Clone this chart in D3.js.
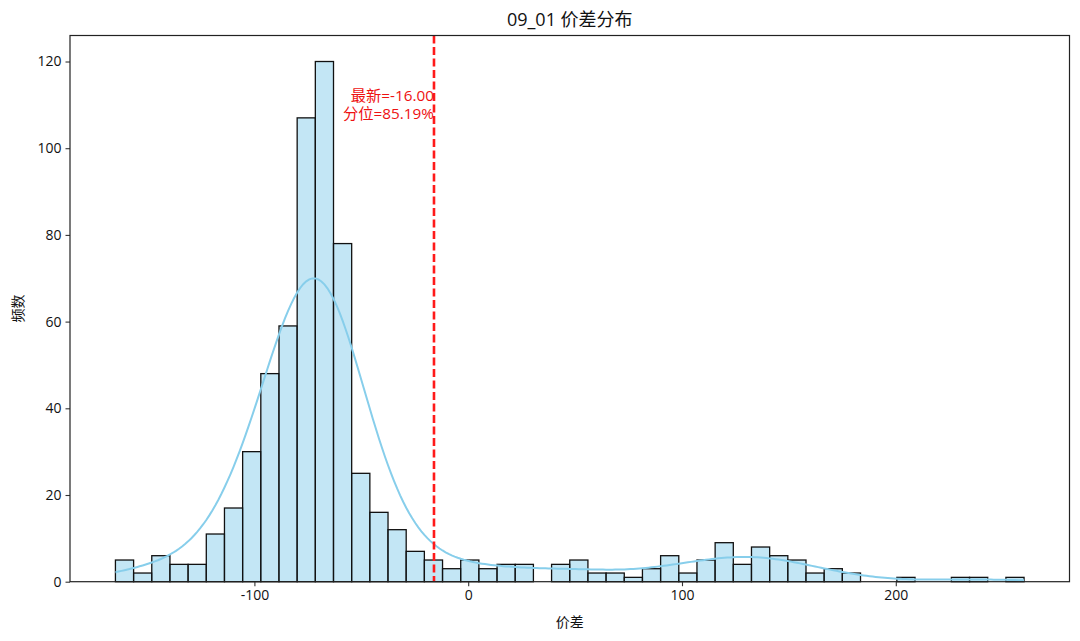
<!DOCTYPE html>
<html>
<head>
<meta charset="utf-8">
<script src="https://cdn.jsdelivr.net/npm/d3@7"></script>
<style>
  html, body { margin: 0; padding: 0; background: #fff; }
  svg { display: block; font-family: "Open Sans", "Noto Sans CJK SC", sans-serif; }
</style>
</head>
<body>
<svg id="chart" width="1080" height="641"></svg>
<script>
// ---- data ----
const chartTitle = "09_01 价差分布";
const xLabel = "价差";
const yLabel = "频数";
const binMin = -165;
const binMax = 260;
const counts = [5, 2, 6, 4, 4, 11, 17, 30, 48, 59,
                107, 120, 78, 25, 16, 12, 7, 5, 3, 5,
                3, 4, 4, 0, 4, 5, 2, 2, 1, 3,
                6, 2, 5, 9, 4, 8, 6, 5, 2, 3,
                2, 0, 0, 1, 0, 0, 1, 1, 0, 1];
const xTicks = [-100, 0, 100, 200];
const yTicks = [0, 20, 40, 60, 80, 100, 120];
const latestValue = -16.00;
const latestPercentile = 85.19;
const annotationLines = ["最新=-16.00", "分位=85.19%"];

// ---- layout ----
const FONT = "'Open Sans', 'Noto Sans CJK SC', sans-serif";
const svg = d3.select("#chart");
const margin = { left: 70, right: 1080 - 1069.5, top: 35.5, bottom: 641 - 581.7 };
const W = 1080, H = 641;
const nb = counts.length;
const binW = (binMax - binMin) / nb;
const pad = (binMax - binMin) * 0.05;
const yMaxData = d3.max(counts);

const x = d3.scaleLinear().domain([binMin - pad, binMax + pad]).range([margin.left, W - margin.right]);
const y = d3.scaleLinear().domain([0, yMaxData * 1.05]).range([H - margin.bottom, margin.top]);

const bins = counts.map((c, i) => ({ x0: binMin + i * binW, x1: binMin + (i + 1) * binW, c }));

// bars
svg.append("g").selectAll("rect").data(bins.filter(b => b.c > 0)).join("rect")
  .attr("x", d => x(d.x0))
  .attr("y", d => y(d.c))
  .attr("width", d => x(d.x1) - x(d.x0))
  .attr("height", d => y(0) - y(d.c))
  .attr("fill", "#87ceeb").attr("fill-opacity", 0.5)
  .attr("stroke", "#111").attr("stroke-width", 1.3);

// KDE (Gaussian, Scott bandwidth) from binned data, scaled to counts
const centers = bins.map(b => (b.x0 + b.x1) / 2);
const n = d3.sum(counts);
const mean = d3.sum(centers.map((c, i) => c * counts[i])) / n;
const variance = d3.sum(centers.map((c, i) => counts[i] * (c - mean) ** 2)) / (n - 1);
const h = Math.sqrt(variance) * Math.pow(n, -1 / 5);
const kde = v => d3.sum(centers.map((c, i) => counts[i] * Math.exp(-0.5 * ((v - c) / h) ** 2))) / (h * Math.sqrt(2 * Math.PI));
const kdePts = d3.range(0, 301).map(k => {
  const v = binMin + (binMax - binMin) * k / 300;
  return [v, kde(v) * binW];
});
svg.append("path")
  .attr("d", d3.line().x(d => x(d[0])).y(d => y(d[1]))(kdePts))
  .attr("fill", "none").attr("stroke", "#87ceeb").attr("stroke-width", 2);

// latest line
svg.append("line")
  .attr("x1", x(latestValue)).attr("x2", x(latestValue))
  .attr("y1", margin.top).attr("y2", H - margin.bottom)
  .attr("stroke", "#ff1a1a").attr("stroke-width", 2.6)
  .attr("stroke-dasharray", "8,3.5");

// annotation
const ann = svg.append("text")
  .attr("x", x(latestValue)).attr("y", y(yMaxData * 0.9))
  .attr("text-anchor", "end").attr("fill", "#ee1111").attr("font-size", 15.3);
annotationLines.forEach((t, i) => {
  ann.append("tspan").attr("x", x(latestValue)).attr("dy", i === 0 ? -13 : 18.5).text(t);
});

// axes
const xAxis = svg.append("g").attr("transform", `translate(0,${H - margin.bottom})`)
  .call(d3.axisBottom(x).tickValues(xTicks).tickFormat(d => String(d)).tickSize(4.5).tickPadding(4));
const yAxis = svg.append("g").attr("transform", `translate(${margin.left},0)`)
  .call(d3.axisLeft(y).tickValues(yTicks).tickFormat(d => String(d)).tickSize(4.5).tickPadding(4));
[xAxis, yAxis].forEach(g => {
  g.select(".domain").remove();
  g.selectAll("text").attr("font-size", 14).attr("fill", "#111").attr("font-family", FONT);
  g.selectAll("line").attr("stroke", "#333").attr("stroke-width", 1.1);
});

// frame
svg.append("rect")
  .attr("x", margin.left).attr("y", margin.top)
  .attr("width", W - margin.right - margin.left).attr("height", H - margin.bottom - margin.top)
  .attr("fill", "none").attr("stroke", "#222").attr("stroke-width", 1.2);

// labels
svg.append("text").attr("x", (margin.left + W - margin.right) / 2).attr("y", 26)
  .attr("text-anchor", "middle").attr("font-size", 18).attr("fill", "#111").text(chartTitle);
svg.append("text").attr("x", (margin.left + W - margin.right) / 2).attr("y", 627)
  .attr("text-anchor", "middle").attr("font-size", 14).attr("fill", "#111").text(xLabel);
svg.append("text").attr("transform", `translate(23,${(margin.top + H - margin.bottom) / 2}) rotate(-90)`)
  .attr("text-anchor", "middle").attr("font-size", 14).attr("fill", "#111").text(yLabel);
</script>
</body>
</html>
